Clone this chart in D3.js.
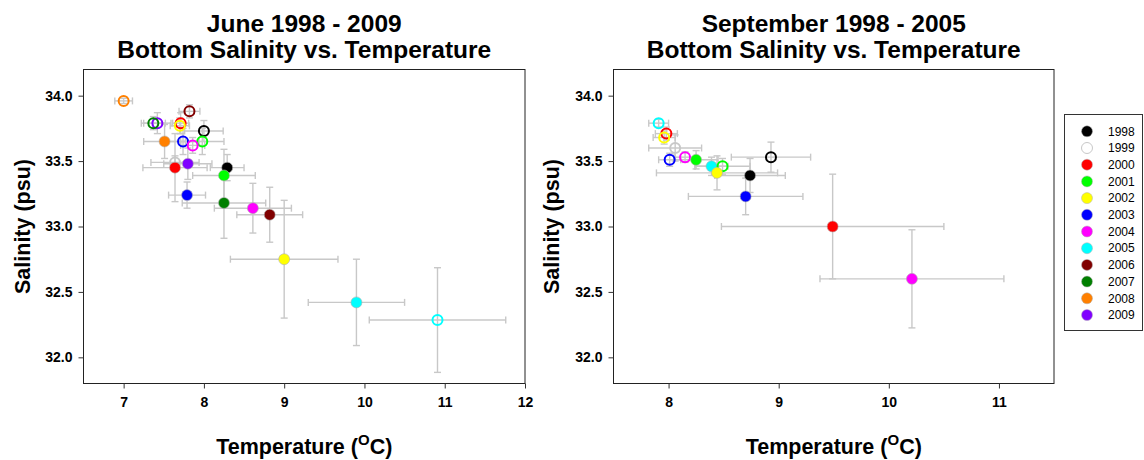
<!DOCTYPE html>
<html>
<head>
<meta charset="utf-8">
<script src="https://cdn.jsdelivr.net/npm/d3@7"></script>
<style>
  html, body { margin: 0; padding: 0; background: #fff; }
  svg { display: block; font-family: "Liberation Sans", Arial, sans-serif; }
</style>
</head>
<body>
<svg id="chart" width="1144" height="460"></svg>
<script>
// ---------- DATA ----------
const legendYears = [1998, 1999, 2000, 2001, 2002, 2003, 2004, 2005, 2006, 2007, 2008, 2009];
const yearColors  = ["#000000", "#ffffff", "#ff0000", "#00ff00", "#ffff00", "#0000ff",
                     "#ff00ff", "#00ffff", "#800000", "#007f00", "#ff8000", "#8000ff"];

const juneTitle = ["June 1998 - 2009", "Bottom Salinity vs. Temperature"];
const juneXTicks = [7, 8, 9, 10, 11, 12];
const juneYear    = [2008, 2006, 2009, 2007, 2000, 2002, 1998, 2008, 2003, 2001, 2004, 1999,
                     2000, 2009, 1998, 2001, 2003, 2007, 2004, 2006, 2002, 2005, 2005];
const juneOpen    = [1, 1, 1, 1, 1, 1, 1, 0, 1, 1, 1, 1,
                     0, 0, 0, 0, 0, 0, 0, 0, 0, 0, 1];
const juneTemp    = [7.00, 7.82, 7.42, 7.37, 7.71, 7.70, 8.00, 7.51, 7.74, 7.98, 7.86, 7.64,
                     7.64, 7.80, 8.29, 8.25, 7.79, 8.25, 8.61, 8.82, 9.00, 9.90, 10.91];
const juneSal     = [33.96, 33.88, 33.79, 33.79, 33.79, 33.77, 33.73, 33.65, 33.65, 33.65, 33.62, 33.49,
                     33.45, 33.48, 33.45, 33.39, 33.24, 33.18, 33.14, 33.09, 32.75, 32.42, 32.285];
const juneTempErr = [0.11, 0.13, 0.17, 0.15, 0.10, 0.12, 0.24, 0.26, 0.20, 0.27, 0.15, 0.30,
                     0.40, 0.30, 0.21, 0.39, 0.23, 0.52, 0.48, 0.41, 0.67, 0.60, 0.85];
const juneSalErr  = [0.02, 0.05, 0.08, 0.05, 0.08, 0.06, 0.08, 0.13, 0.10, 0.10, 0.06, 0.05,
                     0.26, 0.12, 0.10, 0.20, 0.10, 0.27, 0.19, 0.21, 0.45, 0.33, 0.40];

const sepTitle = ["September 1998 - 2005", "Bottom Salinity vs. Temperature"];
const sepXTicks = [8, 9, 10, 11];
const sepYear    = [2005, 2000, 2002, 1999, 2003, 2004, 2001, 2005, 2001, 2002, 1998, 1998, 2003, 2000, 2004];
const sepOpen    = [1, 1, 1, 1, 1, 1, 0, 0, 1, 0, 1, 0, 0, 0, 0];
const sepTemp    = [7.91, 7.98, 7.96, 8.06, 8.01, 8.15, 8.25, 8.39, 8.49, 8.44, 8.93, 8.74, 8.70, 9.49, 10.21];
const sepSal     = [33.79, 33.71, 33.68, 33.60, 33.51, 33.53, 33.51, 33.46, 33.46, 33.41, 33.53, 33.39, 33.23, 33.00, 32.60];
const sepTempErr = [0.09, 0.10, 0.10, 0.24, 0.10, 0.10, 0.20, 0.15, 0.25, 0.55, 0.36, 0.32, 0.52, 1.01, 0.835];
const sepSalErr  = [0.03, 0.05, 0.05, 0.10, 0.05, 0.04, 0.07, 0.07, 0.06, 0.13, 0.115, 0.13, 0.14, 0.40, 0.375];

const yTicks = [32.0, 32.5, 33.0, 33.5, 34.0];

// ---------- DRAW ----------
const svg = d3.select("#chart");
const colorOf = d3.scaleOrdinal().domain(legendYears).range(yearColors);
const errColor = "#c8c8c8";

function panel(cfg) {
  const x = d3.scaleLinear().domain(cfg.xDomain).range([cfg.left, cfg.right]);
  const y = d3.scaleLinear().domain([31.8, 34.2]).range([cfg.bottom, cfg.top]);
  const g = svg.append("g");

  g.append("rect")
    .attr("x", cfg.left).attr("y", cfg.top)
    .attr("width", cfg.right - cfg.left).attr("height", cfg.bottom - cfg.top)
    .attr("fill", "none").attr("stroke", "#222").attr("stroke-width", 1);

  const xAxis = d3.axisBottom(x).tickValues(cfg.xTicks).tickSize(5).tickPadding(9).tickFormat(d3.format("d"));
  const gx = g.append("g").attr("transform", `translate(0,${cfg.bottom})`).call(xAxis);
  gx.select(".domain").remove();
  gx.selectAll("line").attr("stroke", "#333");
  gx.selectAll("text").attr("font-size", "14px").attr("font-weight", "bold").attr("fill", "#000")
    .attr("font-family", "Liberation Sans, Arial, sans-serif");

  const yAxis = d3.axisLeft(y).tickValues(yTicks).tickSize(5).tickPadding(6).tickFormat(d3.format(".1f"));
  const gy = g.append("g").attr("transform", `translate(${cfg.left},0)`).call(yAxis);
  gy.select(".domain").remove();
  gy.selectAll("line").attr("stroke", "#333");
  gy.selectAll("text").attr("font-size", "14px").attr("font-weight", "bold").attr("fill", "#000")
    .attr("font-family", "Liberation Sans, Arial, sans-serif");

  const cx = (cfg.left + cfg.right) / 2;
  g.append("text").attr("x", cx).attr("y", 32).attr("text-anchor", "middle")
    .attr("font-size", "24.5px").attr("font-weight", "bold").text(cfg.title[0]);
  g.append("text").attr("x", cx).attr("y", 58).attr("text-anchor", "middle")
    .attr("font-size", "24.5px").attr("font-weight", "bold").text(cfg.title[1]);

  const xl = g.append("text").attr("x", cx).attr("y", 454).attr("text-anchor", "middle")
    .attr("font-size", "21.5px").attr("font-weight", "bold");
  xl.append("tspan").text("Temperature (");
  xl.append("tspan").attr("font-size", "15px").attr("dy", -9).text("O");
  xl.append("tspan").attr("dy", 9).text("C)");

  g.append("text")
    .attr("transform", `translate(${cfg.yLabelX},${(cfg.top + cfg.bottom) / 2}) rotate(-90)`)
    .attr("text-anchor", "middle").attr("dy", "0.35em")
    .attr("font-size", "21.5px").attr("font-weight", "bold").text("Salinity (psu)");

  const rows = cfg.year.map((yr, i) => ({
    year: yr, open: cfg.open[i], t: cfg.temp[i], s: cfg.sal[i], te: cfg.tempErr[i], se: cfg.salErr[i]
  }));

  const cap = 3.5;
  const eg = g.append("g").attr("stroke", errColor).attr("stroke-width", 1.4).attr("fill", "none");
  rows.forEach(d => {
    const px = x(d.t), py = y(d.s);
    const x0 = x(d.t - d.te), x1 = x(d.t + d.te);
    const y0 = y(d.s - d.se), y1 = y(d.s + d.se);
    eg.append("line").attr("x1", x0).attr("x2", x1).attr("y1", py).attr("y2", py);
    eg.append("line").attr("x1", x0).attr("x2", x0).attr("y1", py - cap).attr("y2", py + cap);
    eg.append("line").attr("x1", x1).attr("x2", x1).attr("y1", py - cap).attr("y2", py + cap);
    eg.append("line").attr("x1", px).attr("x2", px).attr("y1", y0).attr("y2", y1);
    eg.append("line").attr("x1", px - cap).attr("x2", px + cap).attr("y1", y0).attr("y2", y0);
    eg.append("line").attr("x1", px - cap).attr("x2", px + cap).attr("y1", y1).attr("y2", y1);
  });

  g.append("g").selectAll("circle").data(rows).join("circle")
    .attr("cx", d => x(d.t)).attr("cy", d => y(d.s))
    .attr("r", d => d.open ? 5 : 5.5)
    .attr("fill", d => d.open ? "none" : colorOf(d.year))
    .attr("stroke", d => d.open ? (d.year === 1999 ? "#c8c8c8" : colorOf(d.year)) : "#b0b0b0")
    .attr("stroke-width", d => d.open ? 2 : 0.6);
}

panel({
  left: 83.5, right: 525, top: 69.5, bottom: 383.5, xDomain: [6.5, 12], xTicks: juneXTicks,
  title: juneTitle, yLabelX: 22,
  year: juneYear, open: juneOpen, temp: juneTemp, sal: juneSal, tempErr: juneTempErr, salErr: juneSalErr
});
panel({
  left: 613.5, right: 1054, top: 69.5, bottom: 383.5, xDomain: [7.5, 11.5], xTicks: sepXTicks,
  title: sepTitle, yLabelX: 551,
  year: sepYear, open: sepOpen, temp: sepTemp, sal: sepSal, tempErr: sepTempErr, salErr: sepSalErr
});

const lg = svg.append("g");
lg.append("rect").attr("x", 1064.5).attr("y", 114.5).attr("width", 78).attr("height", 216)
  .attr("fill", "#fff").attr("stroke", "#333").attr("stroke-width", 1);
const ly = d3.scalePoint().domain(legendYears).range([131.3, 315]);
lg.selectAll("circle").data(legendYears).join("circle")
  .attr("cx", 1087).attr("cy", d => ly(d)).attr("r", 5.5)
  .attr("fill", d => colorOf(d))
  .attr("stroke", d => d === 1999 ? "#c8c8c8" : "#b0b0b0").attr("stroke-width", d => d === 1999 ? 1 : 0.5);
lg.selectAll("text").data(legendYears).join("text")
  .attr("x", 1108).attr("y", d => ly(d)).attr("dy", "0.35em")
  .attr("font-size", "12px").text(d => d);
</script>
</body>
</html>
